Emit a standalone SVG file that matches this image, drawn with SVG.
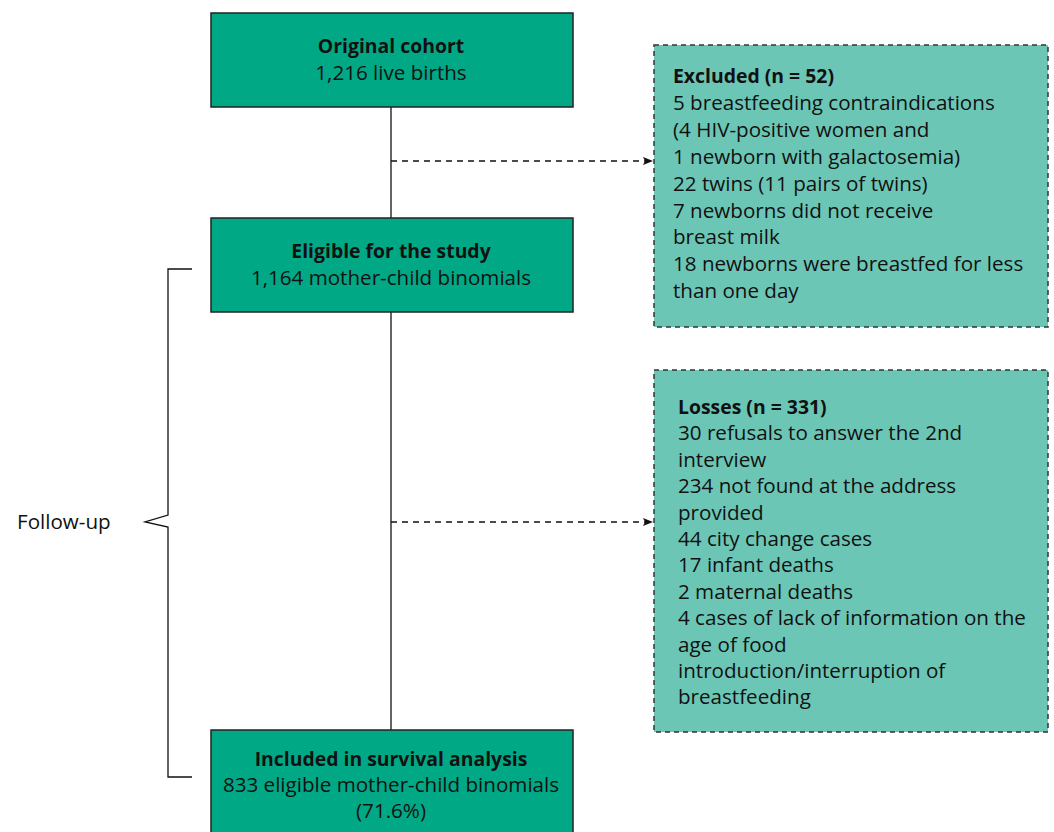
<svg xmlns="http://www.w3.org/2000/svg" width="1054" height="832" viewBox="0 0 1054 832">
<style>
.main{fill:#00a886;stroke:#222;stroke-width:1.5}
.side{fill:#6cc6b6;stroke:#333;stroke-width:1.5;stroke-dasharray:5 4}
text{font-family:"Open Sans",Lato,sans-serif;font-size:20.6px;fill:#111}
.b{font-weight:bold;font-size:19.4px}
.c{text-anchor:middle}
.ln{stroke:#111;stroke-width:1.3;fill:none}
.dash{stroke:#111;stroke-width:1.3;fill:none;stroke-dasharray:6 5}
</style>
<defs>
<marker id="ah" viewBox="0 0 10 10" refX="10" refY="5" markerWidth="10" markerHeight="10" markerUnits="userSpaceOnUse" orient="auto">
<path d="M0,1 L10,5 L0,9 L2,5 Z" fill="#111"/>
</marker>
</defs>
<g id="connectors">
<line class="ln" x1="391" y1="107" x2="391" y2="218"/>
<line class="ln" x1="391" y1="312" x2="391" y2="730"/>
<line class="dash" x1="391" y1="161" x2="653" y2="161" marker-end="url(#ah)"/>
<line class="dash" x1="391" y1="522" x2="653" y2="522" marker-end="url(#ah)"/>
</g>
<g id="original">
<rect class="main" x="211" y="13" width="362" height="94"/>
<text class="c b" x="391" y="53">Original cohort</text>
<text class="c" x="391" y="80">1,216 live births</text>
</g>
<g id="eligible">
<rect class="main" x="211" y="218" width="362" height="94"/>
<text class="c b" x="391" y="258">Eligible for the study</text>
<text class="c" x="391" y="285">1,164 mother-child binomials</text>
</g>
<g id="included">
<rect class="main" x="211" y="730" width="362" height="110"/>
<text class="c b" x="391" y="766">Included in survival analysis</text>
<text class="c" x="391" y="792">833 eligible mother-child binomials</text>
<text class="c" x="391" y="818">(71.6%)</text>
</g>
<g id="excluded">
<rect class="side" x="654" y="45" width="394" height="282"/>
<text x="673" y="83"><tspan class="b">Excluded (n = 52)</tspan>
<tspan x="673" dy="26.9">5 breastfeeding contraindications</tspan>
<tspan x="673" dy="26.9">(4 HIV-positive women and</tspan>
<tspan x="673" dy="26.9">1 newborn with galactosemia)</tspan>
<tspan x="673" dy="26.9">22 twins (11 pairs of twins)</tspan>
<tspan x="673" dy="26.9">7 newborns did not receive</tspan>
<tspan x="673" dy="26.9">breast milk</tspan>
<tspan x="673" dy="26.9">18 newborns were breastfed for less</tspan>
<tspan x="673" dy="26.9">than one day</tspan></text>
</g>
<g id="losses">
<rect class="side" x="654" y="370" width="394" height="362"/>
<text x="678" y="414"><tspan class="b">Losses (n = 331)</tspan>
<tspan x="678" dy="26.4">30 refusals to answer the 2nd</tspan>
<tspan x="678" dy="26.4">interview</tspan>
<tspan x="678" dy="26.4">234 not found at the address</tspan>
<tspan x="678" dy="26.4">provided</tspan>
<tspan x="678" dy="26.4">44 city change cases</tspan>
<tspan x="678" dy="26.4">17 infant deaths</tspan>
<tspan x="678" dy="26.4">2 maternal deaths</tspan>
<tspan x="678" dy="26.4">4 cases of lack of information on the</tspan>
<tspan x="678" dy="26.4">age of food</tspan>
<tspan x="678" dy="26.4">introduction/interruption of</tspan>
<tspan x="678" dy="26.4">breastfeeding</tspan></text>
</g>
<g id="followup">
<path class="ln" d="M192,269 H168 V515 L145,522 L168,527 V777 H192"/>
<text x="17" y="529">Follow-up</text>
</g>
</svg>
